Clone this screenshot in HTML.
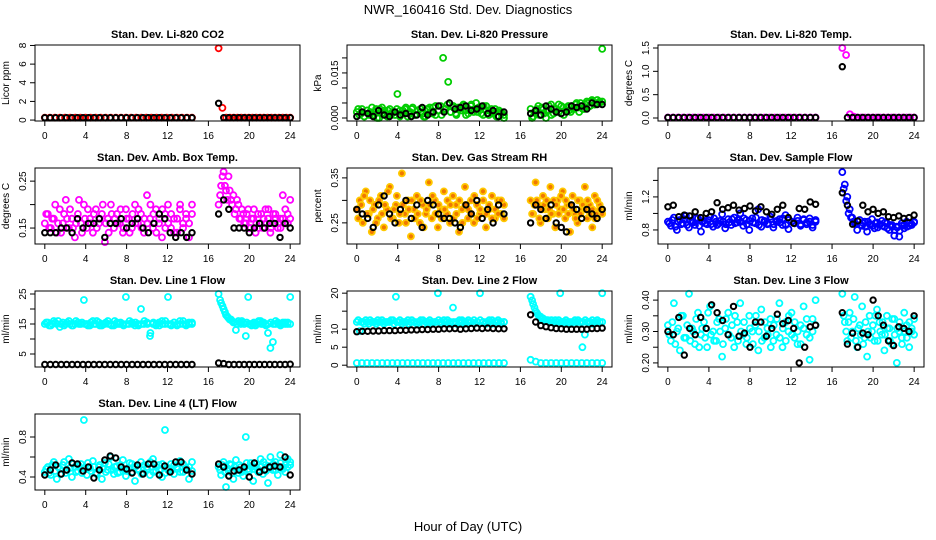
<!DOCTYPE html>
<html><head><meta charset="utf-8"><style>
html,body{margin:0;padding:0;background:#fff;}
svg{display:block;font-family:"Liberation Sans",Arial,sans-serif;}
</style></head><body>
<svg id="chart" width="936" height="540" viewBox="0 0 936 540">
<text x="468" y="14" text-anchor="middle" font-size="13">NWR_160416  Std. Dev. Diagnostics</text>
<text x="468" y="531" text-anchor="middle" font-size="13">Hour of Day (UTC)</text>
</svg>
<script>
// ---- data (values per series; seg1 = 0-14.4 h, seg2 = 17-24 h) ----
const co2Red1=[0.25,0.25,0.25,0.25,0.25,0.25,0.25,0.25,0.25,0.25,0.25,0.25,0.25,0.25,0.25,0.25,0.25,0.25,0.25,0.25,0.25,0.25,0.25,0.25,0.25,0.25,0.25,0.25,0.25,0.25];
const co2Red2=[7.7,1.3,0.25,0.25,0.25,0.25,0.25,0.25,0.25,0.25,0.25,0.25,0.25,0.25,0.25,0.25,0.25,0.25,0.25,0.25];
const co2Blk1=[0.25,0.25,0.25,0.25,0.25,0.25,0.25,0.25,0.25,0.25,0.25,0.25,0.25,0.25,0.25,0.25,0.25,0.25,0.25,0.25,0.25,0.25,0.25,0.25,0.25,0.25,0.25,0.25];
const co2Blk2=[1.8,0.25,0.25,0.25,0.25,0.25,0.25,0.25,0.25,0.25,0.25,0.25,0.25,0.25,0.25];
const presGrn1=[0.002,0.001,0.003,0.0005,0.0025,0.001,0.0035,0.002,0,0.003,0.0015,0.0025,0.0005,0.003,0.002,0.001,0.008,0.0025,0.0015,0.003,0.0005,0.002,0.0035,0.001,0.0025,0.003,0.0015,0.0005,0.003,0.002,0.0035,0.001,0.0025,0.004,0.02,0.003,0.012,0.002,0.004,0.0015,0.0035,0.0025,0.0045,0.001,0.003,0.004,0.002,0.005,0.0035,0.0015,0.004,0.0025,0.001,0.003,0.002,0.0005,0.0025,0.0015,0];
const presGrn2=[0.003,0.0005,0.002,0.004,0.001,0.003,0,0.0025,0.0045,0.0015,0.003,0.002,0.004,0.001,0.0035,0.0025,0.004,0.003,0.005,0.002,0.004,0.003,0.0055,0.004,0.006,0.0045,0.005,0.0055,0.023];
const presGrn1b=[0.003,0.0015,0.0005,0.0025,0.002,0.001,0.003,0,0.0035,0.0015,0.0025,0.001,0.002,0.003,0.0005,0.0025,0.0035,0.0015,0.003,0.001,0.0025,0.002,0.0005,0.003,0.0035,0.0015,0.004,0.0025,0.001,0.003,0.0045,0.002,0.0035,0.001,0.003,0.004,0.0025,0.0015,0.0045,0.003,0.002,0.0035,0.001,0.004,0.0025,0.0015,0.003,0.0005,0.002,0.001];
const presGrn2b=[0,0.002,0.003,0.001,0.0035,0.0015,0.0025,0.004,0.001,0.003,0.002,0.0045,0.0015,0.0035,0.0025,0.004,0.002,0.003,0.0045,0.0035,0.005,0.003,0.0045,0.005,0.004,0.0055,0.0045,0.006,0.005,0.0055];
const presBlk1=[0.0005,0.002,0.0015,0.0005,0.0025,0.001,0.0005,0.002,0.001,0.0015,0.0005,0.001,0.0035,0.001,0.002,0.004,0.002,0.005,0.003,0.0035,0.004,0.0025,0.003,0.004,0.0015,0.0025,0.0005,0.002];
const presBlk2=[0.0015,0.0025,0.001,0.004,0.003,0.002,0.0015,0.002,0.004,0.0035,0.004,0.003,0.005,0.0045,0.0045];
const tempMag1=[0.01,0.01,0.01,0.01,0.01,0.01,0.01,0.01,0.01,0.01,0.01,0.01,0.01,0.01,0.01,0.01,0.01,0.01,0.01,0.01,0.01,0.01,0.01,0.01,0.01,0.01,0.01,0.01,0.01,0.01];
const tempMag2=[1.5,1.35,0.08,0.03,0.01,0.01,0.01,0.01,0.01,0.01,0.01,0.01,0.01,0.01,0.01,0.01,0.01,0.01,0.01,0.01];
const tempBlk1=[0.01,0.01,0.01,0.01,0.01,0.01,0.01,0.01,0.01,0.01,0.01,0.01,0.01,0.01,0.01,0.01,0.01,0.01,0.01,0.01,0.01,0.01,0.01,0.01,0.01,0.01,0.01,0.01];
const tempBlk2=[1.1,0.01,0.01,0.01,0.01,0.01,0.01,0.01,0.01,0.01,0.01,0.01,0.01,0.01,0.01];
const boxMag1=[0.16,0.18,0.15,0.17,0.14,0.19,0.16,0.21,0.15,0.17,0.13,0.18,0.16,0.2,0.15,0.17,0.14,0.19,0.16,0.18,0.12,0.17,0.2,0.15,0.18,0.16,0.14,0.19,0.17,0.15,0.2,0.16,0.18,0.14,0.22,0.17,0.15,0.19,0.16,0.13,0.18,0.2,0.15,0.17,0.14,0.19,0.16,0.18,0.13,0.2];
const boxMag2=[0.2,0.24,0.27,0.23,0.26,0.21,0.22,0.19,0.2,0.17,0.18,0.16,0.19,0.15,0.17,0.14,0.18,0.16,0.15,0.19,0.17,0.14,0.16,0.18,0.15,0.17,0.22,0.16,0.18,0.21];
const boxMag1b=[0.18,0.15,0.17,0.2,0.16,0.14,0.18,0.17,0.19,0.15,0.16,0.21,0.14,0.17,0.19,0.16,0.18,0.15,0.17,0.2,0.16,0.14,0.18,0.17,0.16,0.19,0.15,0.17,0.14,0.18,0.16,0.19,0.15,0.17,0.16,0.2,0.18,0.14,0.17,0.19,0.15,0.16,0.18,0.14,0.17,0.2,0.15,0.17,0.16,0.18];
const boxMag2b=[0.22,0.26,0.24,0.21,0.23,0.2,0.18,0.21,0.17,0.19,0.16,0.18,0.15,0.17,0.19,0.16,0.15,0.18,0.17,0.16,0.19,0.15,0.18,0.17,0.16,0.15,0.17,0.19,0.16,0.17];
const boxBlk1=[0.14,0.14,0.14,0.15,0.15,0.14,0.17,0.15,0.16,0.16,0.17,0.13,0.16,0.16,0.17,0.15,0.16,0.17,0.15,0.14,0.16,0.18,0.17,0.14,0.13,0.14,0.13,0.14];
const boxBlk2=[0.18,0.21,0.19,0.15,0.15,0.15,0.14,0.15,0.16,0.15,0.16,0.16,0.13,0.16,0.15];
const rhOrg1=[0.28,0.3,0.25,0.32,0.27,0.23,0.29,0.26,0.31,0.24,0.28,0.33,0.26,0.29,0.25,0.36,0.27,0.3,0.22,0.28,0.31,0.25,0.29,0.27,0.34,0.26,0.3,0.24,0.28,0.32,0.27,0.25,0.31,0.29,0.23,0.28,0.33,0.26,0.3,0.25,0.29,0.27,0.32,0.24,0.28,0.31,0.26,0.3,0.27,0.29];
const rhOrg2=[0.3,0.27,0.34,0.29,0.25,0.31,0.28,0.26,0.33,0.27,0.24,0.3,0.28,0.32,0.26,0.29,0.23,0.31,0.27,0.25,0.3,0.28,0.33,0.26,0.29,0.24,0.31,0.27,0.29,0.28];
const rhOrg1b=[0.26,0.29,0.31,0.27,0.3,0.28,0.25,0.3,0.27,0.29,0.32,0.26,0.28,0.31,0.27,0.29,0.25,0.28,0.3,0.26,0.27,0.3,0.24,0.28,0.29,0.31,0.27,0.29,0.26,0.28,0.3,0.29,0.26,0.27,0.3,0.25,0.29,0.28,0.27,0.31,0.26,0.28,0.3,0.27,0.29,0.26,0.28,0.27,0.3,0.26];
const rhOrg2b=[0.27,0.29,0.3,0.26,0.28,0.29,0.3,0.28,0.27,0.3,0.29,0.27,0.31,0.28,0.3,0.27,0.29,0.28,0.26,0.3,0.27,0.29,0.28,0.3,0.27,0.28,0.26,0.3,0.28,0.27];
const rhBlk1=[0.28,0.27,0.26,0.24,0.29,0.31,0.27,0.25,0.28,0.3,0.26,0.29,0.24,0.3,0.29,0.27,0.26,0.26,0.25,0.24,0.29,0.27,0.3,0.26,0.28,0.25,0.29,0.27];
const rhBlk2=[0.25,0.29,0.28,0.26,0.29,0.25,0.24,0.23,0.29,0.28,0.26,0.28,0.27,0.26,0.28];
const flowBlu1=[0.9,0.85,0.95,0.8,0.92,0.88,0.97,0.83,0.9,0.86,0.94,0.78,0.91,0.87,0.96,0.84,0.9,0.88,0.99,0.82,0.93,0.86,0.95,0.89,1.0,0.85,0.92,0.8,0.94,0.88,1.05,0.84,0.91,0.87,0.96,0.83,0.9,0.93,0.86,0.98,0.81,0.9,0.88,0.95,0.85,0.92,0.87,0.94,0.83,0.9];
const flowBlu2=[1.5,1.35,1.2,1.05,0.95,0.88,0.8,0.92,0.85,0.9,0.78,0.87,0.93,0.82,0.89,0.86,0.91,0.84,0.88,0.8,0.86,0.73,0.84,0.72,0.88,0.82,0.9,0.85,0.87,0.9];
const flowBlu1b=[0.88,0.92,0.84,0.9,0.87,0.93,0.86,0.91,0.89,0.95,0.85,0.9,0.88,0.92,0.87,0.94,0.86,0.91,0.9,0.87,0.89,0.93,0.88,0.92,0.9,0.94,0.87,0.91,0.89,0.95,0.86,0.92,0.9,0.88,0.93,0.87,0.91,0.89,0.94,0.86,0.92,0.9,0.88,0.91,0.87,0.93,0.89,0.9,0.86,0.92];
const flowBlu2b=[1.3,1.15,1.0,0.95,0.9,0.87,0.9,0.86,0.88,0.84,0.9,0.86,0.85,0.88,0.83,0.87,0.85,0.89,0.82,0.86,0.84,0.8,0.83,0.79,0.85,0.86,0.84,0.88,0.86,0.89];
const flowBlk1=[1.08,1.1,0.96,0.98,0.97,1.02,0.95,1.0,1.02,1.13,1.05,1.07,1.1,1.04,1.06,1.09,1.03,1.08,1.02,0.99,1.05,1.1,0.95,0.88,1.06,1.05,1.14,1.11];
const flowBlk2=[1.25,1.1,0.87,0.91,1.1,1.02,1.05,1.0,1.02,0.96,0.95,0.97,0.94,0.95,0.98];
const l1Cyan1=[15,15.5,14.5,16,15,14,15.5,15,16,14.5,15,15.5,15,23,15,14.5,16,15,15.5,14.5,15,16,15,14.5,15.5,15,15,24,15,15.5,14.5,15,20,15,15.5,11,15,14.5,15.5,16,15,24,15,15.5,14.5,16,15,15,15.5,15];
const l1Cyan2=[25,22,20,18,17,16.5,15.5,13,16,15,15.5,11,24,15,15,14.5,15.5,16,15,15,12,7,9,15,15.5,15,15,15.5,15,24];
const l1Cyan1b=[15.5,14.5,15,15.5,16,15,14.5,15.5,15,14.5,16,15,15.5,15,14.5,15.5,15,16,14.5,15,15.5,15,14.5,16,15,15.5,14.5,15,16,15,15.5,14.5,15,16,15,12,15.5,15,14.5,15,16,15,14.5,15.5,15,15,16,14.5,15,15.5];
const l1Cyan2b=[23,21,19,17.5,16.5,16,15.5,15,15.5,16,15,15.5,15,14.5,15.5,15,16,15,15.5,14.5,15,15.5,15,16,15,14.5,15.5,15,15.5,15];
const l1Blk1=[1.5,1.5,1.5,1.5,1.5,1.5,1.5,1.5,1.5,1.5,1.5,1.5,1.5,1.5,1.5,1.5,1.5,1.5,1.5,1.5,1.5,1.5,1.5,1.5,1.5,1.5,1.5,1.5];
const l1Blk2=[2,1.8,1.5,1.5,1.5,1.5,1.5,1.5,1.5,1.5,1.5,1.5,1.5,1.5,1.6];
const l2CyanHi1=[12,9.5,12,12.5,11.5,12,12,12.5,12,11.5,12,12,12.5,19,12,11.5,12,12.5,12,12,11.5,12,12.5,12,12,11.5,12,20,12,12.5,12,11.5,16,12,12,12.5,11.5,12,12,12.5,12,20,12,11.5,12,12.5,12,12,11.5,12];
const l2CyanHi2=[19,17,15,14,13.5,13,12.5,12.5,12,12,12.5,12,20,12,12,11.5,12,12,12.5,12,12,5,8.5,12,12,12.5,12,12,12,20];
const l2CyanHi1b=[12.5,12,11.5,12,12.5,12,11.5,12,12.5,12,12,12.5,11.5,12,12.5,12,12,11.5,12.5,12,12,12.5,11.5,12,12.5,12,12,12.5,11.5,12,12.5,12,12,11.5,12.5,12,12,12.5,12,11.5,12,12.5,12,12,12.5,11.5,12,12.5,12,12];
const l2CyanHi2b=[18,16,14.5,13.5,13,12.5,12.5,12,12.5,12,12,12.5,12,12,12.5,12,11.5,12,12,12.5,12,12,12.5,12,12,11.5,12,12.5,12,12];
const l2CyanLo1=[0.6,0.6,0.6,0.6,0.6,0.6,0.6,0.6,0.6,0.6,0.6,0.6,0.6,0.6,0.6,0.6,0.6,0.6,0.6,0.6,0.6,0.6,0.6,0.6,0.6,0.6,0.6,0.6,0.6,0.6];
const l2CyanLo2=[1.5,1,0.6,0.6,0.6,0.6,0.6,0.6,0.6,0.6,0.6,0.6,0.6,0.6,0.6];
const l2Blk1=[9.3,9.4,9.4,9.5,9.5,9.6,9.6,9.6,9.7,9.7,9.8,9.8,9.9,9.9,10,10,10.1,10.1,10.2,10,10.1,10.2,10.3,10.2,10.3,10.2,10.1,10.1];
const l2Blk2=[14,12,11,10.7,10.4,10.2,10.1,10,10,10,10,10,10.2,10.2,10.3];
const l3Cyan1=[0.32,0.27,0.39,0.3,0.24,0.35,0.28,0.42,0.31,0.26,0.36,0.29,0.33,0.25,0.38,0.3,0.27,0.34,0.22,0.31,0.36,0.28,0.25,0.33,0.39,0.29,0.26,0.35,0.3,0.32,0.24,0.37,0.28,0.31,0.34,0.27,0.29,0.39,0.25,0.33,0.3,0.36,0.28,0.26,0.32,0.38,0.29,0.21,0.34,0.4];
const l3Cyan2=[0.42,0.33,0.27,0.36,0.3,0.41,0.25,0.32,0.38,0.28,0.22,0.35,0.3,0.27,0.37,0.33,0.29,0.24,0.35,0.31,0.26,0.34,0.2,0.3,0.28,0.36,0.32,0.25,0.3,0.34];
const l3Cyan1b=[0.29,0.33,0.26,0.31,0.35,0.28,0.32,0.27,0.3,0.34,0.25,0.31,0.28,0.36,0.29,0.27,0.33,0.3,0.26,0.34,0.29,0.32,0.35,0.27,0.3,0.33,0.28,0.31,0.26,0.35,0.3,0.27,0.33,0.29,0.25,0.32,0.34,0.28,0.31,0.27,0.35,0.29,0.33,0.3,0.26,0.31,0.34,0.28,0.3,0.32];
const l3Cyan2b=[0.35,0.3,0.33,0.28,0.34,0.27,0.31,0.29,0.26,0.33,0.3,0.28,0.32,0.35,0.27,0.3,0.33,0.29,0.31,0.27,0.34,0.29,0.31,0.33,0.26,0.3,0.28,0.33,0.31,0.29];
const l3Blk1=[0.3,0.29,0.345,0.225,0.31,0.29,0.345,0.31,0.385,0.36,0.335,0.29,0.38,0.285,0.295,0.25,0.33,0.33,0.285,0.31,0.355,0.325,0.335,0.31,0.2,0.25,0.315,0.32];
const l3Blk2=[0.36,0.26,0.295,0.25,0.295,0.29,0.4,0.35,0.32,0.27,0.255,0.315,0.31,0.3,0.35];
const l4Cyan1=[0.45,0.5,0.42,0.55,0.38,0.48,0.52,0.44,0.58,0.4,0.5,0.46,0.53,0.97,0.42,0.49,0.56,0.44,0.5,0.38,0.54,0.47,0.6,0.43,0.51,0.45,0.57,0.41,0.49,0.53,0.36,0.48,0.55,0.44,0.5,0.42,0.58,0.46,0.52,0.4,0.87,0.47,0.53,0.43,0.5,0.56,0.45,0.49,0.38,0.55];
const l4Cyan2=[0.5,0.42,0.55,0.3,0.46,0.52,0.38,0.57,0.44,0.5,0.41,0.8,0.48,0.54,0.36,0.5,0.45,0.58,0.43,0.52,0.34,0.6,0.47,0.55,0.42,0.62,0.5,0.45,0.58,0.52];
const l4Cyan1b=[0.48,0.44,0.52,0.46,0.5,0.43,0.55,0.47,0.49,0.53,0.45,0.51,0.44,0.48,0.54,0.46,0.5,0.43,0.52,0.48,0.45,0.53,0.47,0.5,0.44,0.52,0.48,0.46,0.54,0.45,0.5,0.47,0.43,0.52,0.48,0.55,0.45,0.5,0.47,0.53,0.44,0.49,0.46,0.52,0.48,0.45,0.53,0.47,0.5,0.46];
const l4Cyan2b=[0.47,0.52,0.45,0.49,0.53,0.44,0.5,0.47,0.52,0.45,0.48,0.54,0.46,0.5,0.48,0.53,0.47,0.5,0.55,0.46,0.51,0.49,0.53,0.47,0.5,0.54,0.48,0.52,0.5,0.55];
const l4Blk1=[0.42,0.47,0.52,0.43,0.47,0.54,0.53,0.46,0.5,0.39,0.47,0.57,0.61,0.59,0.5,0.48,0.44,0.52,0.43,0.53,0.53,0.42,0.51,0.45,0.55,0.55,0.47,0.43];
const l4Blk2=[0.53,0.5,0.41,0.46,0.47,0.5,0.4,0.54,0.45,0.47,0.5,0.51,0.5,0.6,0.42];
const xTickValues=[0,4,8,12,16,20,24];
const seg1Span=[0,14.4];
const seg2Span=[17,24];

// ---- layout ----
const NS="http://www.w3.org/2000/svg";
const svg=document.getElementById('chart');
const cols=[[35,300],[347,612],[658,924]];
const rows=[[45,121],[168,244],[291,367],[414,490]];
const XMIN=-0.96,XMAX=24.96;
function mk(tag,attrs,parent){const e=document.createElementNS(NS,tag);for(const k in attrs)e.setAttribute(k,attrs[k]);(parent||svg).appendChild(e);return e;}
const panels=[
 {key:'co2',c:0,r:0,title:'Stan. Dev. Li-820 CO2',ylab:'Licor ppm',ylim:[-0.1,8.05],ticks:[0,2,4,6,8],labels:['0','2','4','6','8'],
  series:[[co2Red1,co2Red2,'#ff0000','none'],[co2Blk1,co2Blk2,'#000','none']]},
 {key:'pressure',c:1,r:0,title:'Stan. Dev. Li-820 Pressure',ylab:'kPa',ylim:[-0.001,0.0243],ticks:[0,0.005,0.01,0.015,0.02],labels:['0.000','','','0.015',''],
  series:[[presGrn1,presGrn2,'#00cd00','none'],[presGrn1b,presGrn2b,'#00cd00','none'],[presBlk1,presBlk2,'#000','none']]},
 {key:'temp',c:2,r:0,title:'Stan. Dev. Li-820 Temp.',ylab:'degrees C',ylim:[-0.064,1.564],ticks:[0,0.5,1,1.5],labels:['0.0','0.5','1.0','1.5'],
  series:[[tempMag1,tempMag2,'#ff00ff','none'],[tempBlk1,tempBlk2,'#000','none']]},
 {key:'ambbox',c:0,r:1,title:'Stan. Dev. Amb. Box Temp.',ylab:'degrees C',ylim:[0.116,0.278],ticks:[0.15,0.2,0.25],labels:['0.15','','0.25'],
  series:[[boxMag1,boxMag2,'#ff00ff','none'],[boxMag1b,boxMag2b,'#ff00ff','none'],[boxBlk1,boxBlk2,'#000','none']]},
 {key:'rh',c:1,r:1,title:'Stan. Dev. Gas Stream RH',ylab:'percent',ylim:[0.203,0.372],ticks:[0.25,0.3,0.35],labels:['0.25','','0.35'],
  series:[[rhOrg1,rhOrg2,'#ffc800','#f07800'],[rhOrg1b,rhOrg2b,'#ffc800','#f07800'],[rhBlk1,rhBlk2,'#000','none']]},
 {key:'sampleflow',c:2,r:1,title:'Stan. Dev. Sample Flow',ylab:'ml/min',ylim:[0.63,1.55],ticks:[0.8,1.0,1.2,1.4],labels:['0.8','','1.2',''],
  series:[[flowBlu1,flowBlu2,'#0000ff','none'],[flowBlu1b,flowBlu2b,'#0000ff','none'],[flowBlk1,flowBlk2,'#000','none']]},
 {key:'line1',c:0,r:2,title:'Stan. Dev. Line 1 Flow',ylab:'ml/min',ylim:[0.67,26],ticks:[5,10,15,20,25],labels:['5','','15','','25'],
  series:[[l1Cyan1,l1Cyan2,'#00ffff','none'],[l1Cyan1b,l1Cyan2b,'#00ffff','none'],[l1Blk1,l1Blk2,'#000','none']]},
 {key:'line2',c:1,r:2,title:'Stan. Dev. Line 2 Flow',ylab:'ml/min',ylim:[-0.5,20.6],ticks:[0,5,10,15,20],labels:['0','5','10','','20'],
  series:[[l2CyanHi1,l2CyanHi2,'#00ffff','none'],[l2CyanHi1b,l2CyanHi2b,'#00ffff','none'],[l2CyanLo1,l2CyanLo2,'#00ffff','none'],[l2Blk1,l2Blk2,'#000','none']]},
 {key:'line3',c:2,r:2,title:'Stan. Dev. Line 3 Flow',ylab:'ml/min',ylim:[0.187,0.429],ticks:[0.2,0.25,0.3,0.35,0.4],labels:['0.20','','0.30','','0.40'],
  series:[[l3Cyan1,l3Cyan2,'#00ffff','none'],[l3Cyan1b,l3Cyan2b,'#00ffff','none'],[l3Blk1,l3Blk2,'#000','none']]},
 {key:'line4',c:0,r:3,title:'Stan. Dev. Line 4 (LT) Flow',ylab:'ml/min',ylim:[0.27,1.03],ticks:[0.4,0.6,0.8],labels:['0.4','','0.8'],
  series:[[l4Cyan1,l4Cyan2,'#00ffff','none'],[l4Cyan1b,l4Cyan2b,'#00ffff','none'],[l4Blk1,l4Blk2,'#000','none']]}
];
panels.forEach(p=>{
  const [x0,x1]=cols[p.c],[y0,y1]=rows[p.r];
  const g=mk('g',{});
  
  
  const xs=h=>x0+(h-XMIN)/(XMAX-XMIN)*(x1-x0);
  const ys=v=>y1-(v-p.ylim[0])/(p.ylim[1]-p.ylim[0])*(y1-y0);
  const t=mk('text',{x:(x0+x1)/2,y:y0-7,'text-anchor':'middle','font-size':'11','font-weight':'bold'},g);
  t.textContent=p.title;
  
  
  const yl=mk('text',{transform:`translate(${x0-26},${(y0+y1)/2}) rotate(-90)`,'text-anchor':'middle','font-size':'10'},g);
  yl.textContent=p.ylab;
  
  
  const pts=mk('g',{},g);
  
  
  p.series.forEach((s,si)=>{
    const off=(si===1 && s[2]!=='#000')?0.14:0;
    [[s[0],seg1Span],[s[1],seg2Span]].forEach(([vals,span])=>{
      vals.forEach((v,i)=>{
        const h=span[0]+off+(vals.length>1?i*(span[1]-span[0]-off)/(vals.length-1):0);
        const blk=s[2]==='#000';
        const c=mk('circle',{cx:xs(h).toFixed(1),cy:ys(v).toFixed(1),r:blk?2.7:3,fill:s[3],stroke:s[2],'stroke-width':blk?2:1.8},pts);
        
        
      });
    });
  });
  const box=mk('rect',{x:x0,y:y0,width:x1-x0,height:y1-y0,fill:'none',stroke:'#000','stroke-width':1},g);
  
  
  const xa=mk('g',{},g);
  
  
  mk('line',{x1:xs(0),x2:xs(24),y1:y1,y2:y1,stroke:'#000'},xa);
  xTickValues.forEach(h=>{
    mk('line',{x1:xs(h),x2:xs(h),y1:y1,y2:y1+5,stroke:'#000'},xa);
    const tl=mk('text',{x:xs(h),y:y1+18,'text-anchor':'middle','font-size':'10'},xa);
    tl.textContent=h;
    
    
  });
  const ya=mk('g',{},g);
  
  
  p.ticks.forEach((v,i)=>{
    mk('line',{x1:x0-5,x2:x0,y1:ys(v),y2:ys(v),stroke:'#000'},ya);
    if(p.labels[i]){
      const tl=mk('text',{transform:`translate(${x0-9},${ys(v)}) rotate(-90)`,'text-anchor':'middle','font-size':'10'},ya);
      tl.textContent=p.labels[i];
      
      
    }
  });
});
</script>
</body></html>
